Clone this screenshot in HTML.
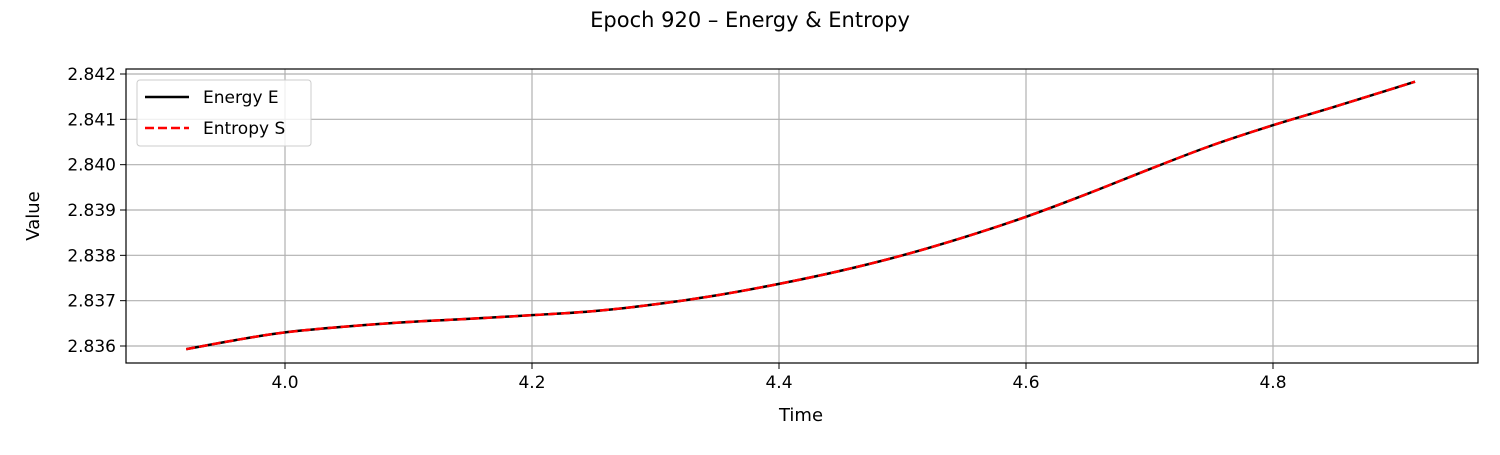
<!DOCTYPE html>
<html><head><meta charset="utf-8"><style>
body{margin:0;background:#fff;font-family:"Liberation Sans","DejaVu Sans",sans-serif}
svg text{font-family:"DejaVu Sans","Liberation Sans",sans-serif}
</style></head><body>
<svg id="c" width="1500" height="450" xmlns="http://www.w3.org/2000/svg">
<rect width="1500" height="450" fill="#fff"/>
<text x="750" y="27" text-anchor="middle" font-size="21">Epoch 920 – Energy &amp; Entropy</text>
<g id="grid"></g><g id="ticks"></g><g id="series"></g>
<rect x="126" y="69" width="1352" height="294" fill="none" stroke="#000" stroke-width="1.2"/>
<text x="801" y="421" text-anchor="middle" font-size="18">Time</text>
<text x="39" y="216" text-anchor="middle" font-size="18" transform="rotate(-90 39 216)">Value</text>
<g>
<rect x="137" y="80" width="174" height="66" rx="3" fill="#fff" fill-opacity="0.8" stroke="#ccc"/>
<g><line x1="145" y1="97" x2="189" y2="97" stroke="#000" stroke-width="2.5"/><text x="203" y="103" font-size="17">Energy E</text></g>
<g><line x1="145" y1="128" x2="189" y2="128" stroke="#f00" stroke-width="2.5" stroke-dasharray="9,4"/><text x="203" y="134" font-size="17">Entropy S</text></g>
</g>
</svg>
<script>
const times=[3.92,3.96,4.0,4.05,4.1,4.15,4.2,4.25,4.3,4.35,4.4,4.45,4.5,4.55,4.6,4.65,4.7,4.75,4.8,4.85,4.915];
const energy=[2.83593,2.83613,2.8363,2.83643,2.83653,2.8366,2.83668,2.83677,2.83692,2.83712,2.83737,2.83766,2.838,2.8384,2.83885,2.83936,2.8399,2.84042,2.84087,2.84128,2.84183];
const entropy=[2.83593,2.83613,2.8363,2.83643,2.83653,2.8366,2.83668,2.83677,2.83692,2.83712,2.83737,2.83766,2.838,2.8384,2.83885,2.83936,2.8399,2.84042,2.84087,2.84128,2.84183];
const xTicks=[4.0,4.2,4.4,4.6,4.8];
const yTicks=[2.836,2.837,2.838,2.839,2.840,2.841,2.842];
const NS="http://www.w3.org/2000/svg";
function X(v){return 285+(v-4.0)*1235;}
function Y(v){return 346-(v-2.836)*45333;}
function mk(t,a,p){const e=document.createElementNS(NS,t);for(const k in a)e.setAttribute(k,a[k]);p.appendChild(e);return e;}
const grid=document.getElementById('grid'),ticks=document.getElementById('ticks'),ser=document.getElementById('series');
xTicks.forEach(v=>{const x=X(v);
const g=mk('line',{x1:x,x2:x,y1:69,y2:363,stroke:'#b0b0b0','stroke-width':1.2},grid);


mk('line',{x1:x,x2:x,y1:363,y2:369,stroke:'#000'},ticks);
const t=mk('text',{x:x,y:388,'text-anchor':'middle','font-size':17},ticks);t.textContent=v.toFixed(1);

});
yTicks.forEach(v=>{const y=Y(v);
const g=mk('line',{x1:126,x2:1478,y1:y,y2:y,stroke:'#b0b0b0','stroke-width':1.2},grid);


mk('line',{x1:120,x2:126,y1:y,y2:y,stroke:'#000'},ticks);
const t=mk('text',{x:116,y:y+6,'text-anchor':'end','font-size':17},ticks);t.textContent=v.toFixed(3);

});
function path(vals){const p=times.map((t,i)=>[X(t),Y(vals[i])]);let d='M'+p[0][0]+','+p[0][1];
for(let i=0;i<p.length-1;i++){const p0=p[Math.max(0,i-1)],p1=p[i],p2=p[i+1],p3=p[Math.min(p.length-1,i+2)];
d+=' C'+(p1[0]+(p2[0]-p0[0])/6)+','+(p1[1]+(p2[1]-p0[1])/6)+' '+(p2[0]-(p3[0]-p1[0])/6)+','+(p2[1]-(p3[1]-p1[1])/6)+' '+p2[0]+','+p2[1];}return d;}
const l1=mk('path',{d:path(energy),fill:'none',stroke:'#000','stroke-width':2.5},ser);


const l2=mk('path',{d:path(entropy),fill:'none',stroke:'#f00','stroke-width':2.5,'stroke-dasharray':'9,4'},ser);


</script>
</body></html>
